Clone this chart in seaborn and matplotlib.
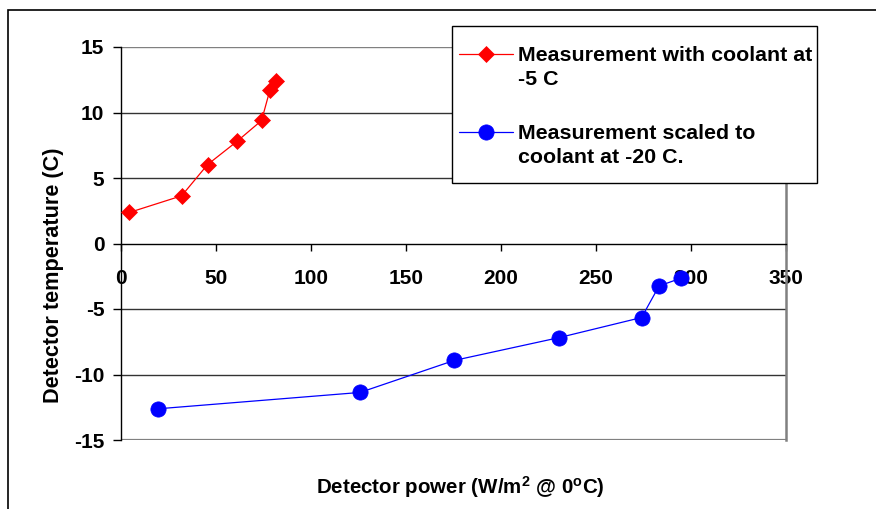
import matplotlib
matplotlib.use("Agg")
import matplotlib.pyplot as plt
import matplotlib.patches as mpatches
from matplotlib.lines import Line2D
import seaborn as sns
import pandas as pd

# ---- data ----
red_power = [4.4, 31.9, 45.6, 61.0, 74.0, 78.4, 81.6]
red_temp = [2.37, 3.64, 6.03, 7.79, 9.39, 11.73, 12.37]
blue_power = [19.3, 125.8, 175.3, 230.7, 274.0, 283.2, 294.9]
blue_temp = [-12.62, -11.37, -8.93, -7.18, -5.65, -3.24, -2.64]
red_label = "Measurement with coolant at\n-5 C"
blue_label = "Measurement scaled to\ncoolant at -20 C."
x_ticks = [0, 50, 100, 150, 200, 250, 300, 350]
y_ticks = [-15, -10, -5, 0, 5, 10, 15]
x_label = r"Detector power (W/m$^{2}$ @ 0$^{o}$C)"
y_label = "Detector temperature (C)"

sns.set_style("white")
plt.rcParams["font.family"] = ["Liberation Sans", "DejaVu Sans"]
plt.rcParams["font.weight"] = "bold"
plt.rcParams["text.color"] = "black"
plt.rcParams["axes.labelcolor"] = "black"
plt.rcParams["xtick.color"] = "black"
plt.rcParams["ytick.color"] = "black"
plt.rcParams["mathtext.fontset"] = "custom"
plt.rcParams["mathtext.rm"] = "Liberation Sans:bold"
plt.rcParams["mathtext.bf"] = "Liberation Sans:bold"
plt.rcParams["mathtext.default"] = "bf"

W, H = 876, 509
fig = plt.figure(figsize=(W / 100, H / 100), dpi=100)
L, R, T, B = 121, 786, 47, 440
ax = fig.add_axes([L / W, 1 - B / H, (R - L) / W, (B - T) / H])

df_red = pd.DataFrame({"x": red_power, "y": red_temp})
df_blue = pd.DataFrame({"x": blue_power, "y": blue_temp})

sns.lineplot(data=df_red, x="x", y="y", ax=ax, color="#ff0000", marker="D",
             markersize=8, markeredgewidth=0.5, markeredgecolor="#ff0000",
             linewidth=0.9, sort=False, zorder=5)
sns.lineplot(data=df_blue, x="x", y="y", ax=ax, color="#0000ff", marker="o",
             markersize=11, markeredgewidth=0.5, markeredgecolor="#0000ff",
             linewidth=0.9, sort=False, zorder=5)

ax.set_xlim(0, 350)
ax.set_ylim(-15, 15)
ax.set_xticks(x_ticks)
ax.set_yticks(y_ticks)
ax.set_yticklabels([str(v) for v in y_ticks])
ax.set_xticklabels([str(v) for v in x_ticks])

# gridlines
for v in y_ticks:
    if v == 0:
        continue
    col = "#808080" if v in (-15, 15) else "#333333"
    lw = 1.6 if v == -15 else 1.0
    ax.axhline(v, color=col, linewidth=lw, zorder=1)

ax.spines["top"].set_visible(False)
ax.spines["right"].set_color("#808080")
ax.spines["right"].set_linewidth(1.8)
ax.spines["left"].set_color("black")
ax.spines["left"].set_linewidth(1.0)
ax.spines["bottom"].set_position(("data", 0))
ax.spines["bottom"].set_color("black")
ax.spines["bottom"].set_linewidth(1.0)

ax.tick_params(axis="x", direction="out", length=5, width=1, color="black",
               pad=13, labelsize=15, bottom=True, labelcolor="black")
ax.tick_params(axis="y", direction="out", length=6, width=1, color="black",
               pad=6, labelsize=15, left=True, labelcolor="black")
for lab in ax.get_xticklabels() + ax.get_yticklabels():
    lab.set_fontweight("bold")

ax.set_xlabel(x_label, fontsize=14.8, fontweight="bold", color="black")
ax.set_ylabel(y_label, fontsize=15.6, fontweight="bold", color="black")
ax.xaxis.set_label_coords((460 - L) / (R - L), (B - 474) / (B - T))
ax.yaxis.set_label_coords((64 - L) / (R - L), (B - 275) / (B - T))

# chart outer frame
fig.patches.append(mpatches.Rectangle((8 / W, -0.2), 1.5, 1.2 - 10 / H,
                                      transform=fig.transFigure, fill=False,
                                      edgecolor="black", linewidth=1.2))

# legend (drawn manually in figure pixels)
def fx(px):
    return px / W

def fy(py):
    return 1 - py / H

fig.patches.append(mpatches.Rectangle((fx(452), fy(183)), fx(817) - fx(452),
                                      fy(26) - fy(183), transform=fig.transFigure,
                                      facecolor="white", edgecolor="black",
                                      linewidth=1.0, zorder=10))
for ycen, col, mk, ms, lab in [(54, "#ff0000", "D", 8, red_label),
                               (132, "#0000ff", "o", 11, blue_label)]:
    fig.add_artist(Line2D([fx(459), fx(513)], [fy(ycen), fy(ycen)],
                          transform=fig.transFigure, color=col, linewidth=0.9,
                          zorder=11))
    fig.add_artist(Line2D([fx(486)], [fy(ycen)], transform=fig.transFigure,
                          color=col, marker=mk, markersize=ms,
                          markeredgewidth=0.5, zorder=12))
    fig.text(fx(518), fy(ycen + 13.5), lab, fontsize=15.4, fontweight="bold",
             va="center", ha="left", linespacing=1.3, zorder=12, color="black")

fig.savefig("out.png", dpi=100)
